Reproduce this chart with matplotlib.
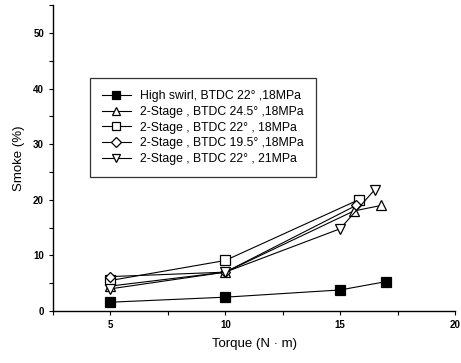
import matplotlib
matplotlib.use("Agg")
import matplotlib.pyplot as plt
from matplotlib.ticker import MultipleLocator

plt.rcParams['font.family'] = ['Liberation Sans', 'DejaVu Sans']

# smoke vs torque for each injection strategy
high_swirl_x = [5, 10, 15, 17]
high_swirl_y = [1.6, 2.5, 3.8, 5.3]

stage_245_x = [5, 10, 15.6, 16.8]
stage_245_y = [4.5, 7.0, 18.0, 19.0]

stage_22_x = [5, 10, 15.8]
stage_22_y = [5.5, 9.1, 20.0]

stage_195_x = [5, 10, 15.7]
stage_195_y = [6.2, 7.0, 19.0]

stage_22_21_x = [5, 10, 15, 16.5]
stage_22_21_y = [4.0, 7.0, 14.8, 21.8]

labels = [
    "High swirl, BTDC 22\u00b0 ,18MPa",
    "2-Stage , BTDC 24.5\u00b0 ,18MPa",
    "2-Stage , BTDC 22\u00b0 , 18MPa",
    "2-Stage , BTDC 19.5\u00b0 ,18MPa",
    "2-Stage , BTDC 22\u00b0 , 21MPa",
]

fig = plt.figure(figsize=(4.61, 3.63), dpi=100)
ax = fig.add_axes([0.115, 0.143, 0.872, 0.843])

kw = dict(color='black', linewidth=0.8, markersize=6.5, markeredgewidth=0.9)
ax.plot(high_swirl_x, high_swirl_y, marker='s', markerfacecolor='black', label=labels[0], **kw)
ax.plot(stage_245_x, stage_245_y, marker='^', markerfacecolor='white', label=labels[1], **kw)
ax.plot(stage_22_x, stage_22_y, marker='s', markerfacecolor='white', label=labels[2], **kw)
ax.plot(stage_195_x, stage_195_y, marker='D', markerfacecolor='white', markersize=5.5,
        color='black', linewidth=0.8, markeredgewidth=0.9, label=labels[3])
ax.plot(stage_22_21_x, stage_22_21_y, marker='v', markerfacecolor='white', label=labels[4], **kw)

ax.set_xlim(2.5, 20)
ax.set_ylim(0, 55)
ax.xaxis.set_major_locator(MultipleLocator(5))
ax.xaxis.set_minor_locator(MultipleLocator(2.5))
ax.yaxis.set_major_locator(MultipleLocator(10))
ax.yaxis.set_minor_locator(MultipleLocator(5))
ax.tick_params(which='both', direction='out', length=3, width=0.8, labelsize=7)
for lab in ax.get_xticklabels() + ax.get_yticklabels():
    lab.set_fontweight('bold')

for side in ['top', 'right']:
    ax.spines[side].set_visible(False)
for side in ['left', 'bottom']:
    ax.spines[side].set_linewidth(1.0)

ax.set_xlabel("Torque (N \u00b7 m)", fontsize=9.5, labelpad=6)
ax.set_ylabel("Smoke (%)", fontsize=9.5, labelpad=6)

leg = ax.legend(loc='upper left', bbox_to_anchor=(0.091, 0.761), borderaxespad=0,
                fontsize=8.8, frameon=True, fancybox=False, edgecolor='black',
                handlelength=2.4, handletextpad=0.7, borderpad=1.0, labelspacing=0.3,
                markerscale=0.85)
leg.get_frame().set_linewidth(0.9)

fig.savefig("out.png", dpi=100)
